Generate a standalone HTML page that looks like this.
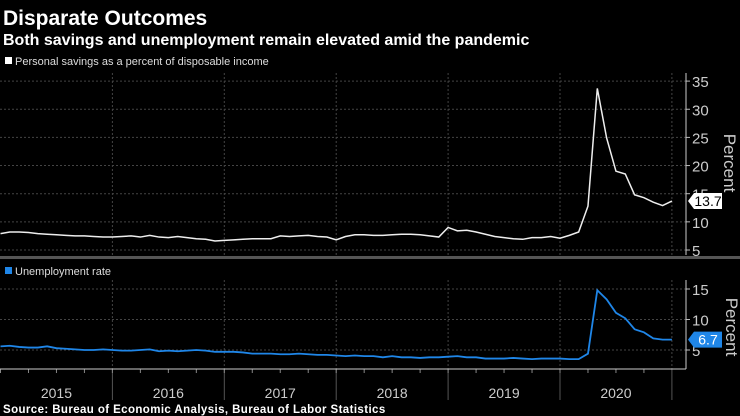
<!DOCTYPE html>
<html><head><meta charset="utf-8"><style>
body{margin:0;background:#000;width:740px;height:416px;overflow:hidden;font-family:"Liberation Sans",sans-serif;color:#fff}
</style></head><body>
<svg id="c" width="740" height="416" xmlns="http://www.w3.org/2000/svg" style="display:block">
<rect width="740" height="416" fill="#000"/>
<text x="3" y="25" font-size="21" font-weight="bold" fill="#fff">Disparate Outcomes</text>
<text x="3" y="45" font-size="16" font-weight="bold" fill="#fff">Both savings and unemployment remain elevated amid the pandemic</text>
<rect x="5" y="57" width="7" height="7" fill="#fff"/>
<text x="15" y="65" font-size="11" fill="#ddd">Personal savings as a percent of disposable income</text>
<rect x="0" y="256" width="740" height="3" fill="#555"/>
<rect x="5" y="267" width="7" height="7" fill="#1f86e8"/>
<text x="15" y="275" font-size="11" fill="#ddd">Unemployment rate</text>
<text x="3" y="413" font-size="11.5" font-weight="bold" fill="#fff" letter-spacing="0.4">Source: Bureau of Economic Analysis, Bureau of Labor Statistics</text>
<g id="g"></g>
</svg>
<script>
const years=["2015","2016","2017","2018","2019","2020"];
// Dec 2014 .. Dec 2020
const savings=[7.9,
8.2,8.2,8.1,7.9,7.8,7.7,7.6,7.5,7.5,7.4,7.3,7.3,
7.4,7.5,7.3,7.6,7.3,7.2,7.4,7.2,7.0,6.9,6.6,6.7,
6.8,6.9,7.0,7.0,7.0,7.5,7.4,7.5,7.6,7.4,7.3,6.8,
7.4,7.7,7.7,7.6,7.6,7.7,7.8,7.8,7.7,7.5,7.3,9.0,
8.4,8.5,8.2,7.8,7.4,7.2,7.0,6.9,7.2,7.2,7.4,7.1,
7.6,8.2,12.8,33.7,24.9,19.0,18.5,14.8,14.3,13.5,12.9,13.7];
const unemployment=[5.6,
5.7,5.5,5.4,5.4,5.6,5.3,5.2,5.1,5.0,5.0,5.1,5.0,
4.9,4.9,5.0,5.1,4.8,4.9,4.8,4.9,5.0,4.9,4.7,4.7,
4.7,4.6,4.4,4.4,4.4,4.3,4.3,4.4,4.3,4.2,4.2,4.1,
4.0,4.1,4.0,4.0,3.8,4.0,3.8,3.8,3.7,3.8,3.8,3.9,
4.0,3.8,3.8,3.6,3.6,3.6,3.7,3.6,3.5,3.6,3.6,3.6,
3.5,3.5,4.4,14.8,13.3,11.1,10.2,8.4,7.9,6.9,6.7,6.7];
const topTicks=[5,10,15,20,25,30,35];
const botTicks=[5,10,15];
const NS="http://www.w3.org/2000/svg",g=document.getElementById('g');
const X0=0.5,YW=111.9,MW=YW/12;
const xs=i=>X0+i*MW;
const yT=v=>250-(v-5)*5.63;
const yB=v=>350-(v-5)*6.1;
function el(t,a,p){const e=document.createElementNS(NS,t);for(const k in a)e.setAttribute(k,a[k]);(p||g).appendChild(e);return e;}
const AX=686;
topTicks.forEach(v=>{
 const l=el('line',{x1:0,x2:AX,y1:yT(v),y2:yT(v),stroke:'#444','stroke-dasharray':'2,2'});
 
 
 el('line',{x1:AX,x2:AX+4,y1:yT(v),y2:yT(v),stroke:'#bbb'});
 const t=el('text',{x:AX+6,y:yT(v)+6,'font-size':15,fill:'#ccc'});t.textContent=v;
 
 
});
botTicks.forEach(v=>{
 const l=el('line',{x1:0,x2:AX,y1:yB(v),y2:yB(v),stroke:'#444','stroke-dasharray':'2,2'});
 
 
 el('line',{x1:AX,x2:AX+4,y1:yB(v),y2:yB(v),stroke:'#bbb'});
 const t=el('text',{x:AX+6,y:yB(v)+6,'font-size':15,fill:'#ccc'});t.textContent=v;
 
 
});
for(let k=1;k<=years.length;k++){
 const x=X0+k*YW;
 el('line',{x1:x,x2:x,y1:73,y2:255,stroke:'#444','stroke-dasharray':'2,2'});
 el('line',{x1:x,x2:x,y1:280,y2:369,stroke:'#444','stroke-dasharray':'2,2'});
 el('line',{x1:x,x2:x,y1:369,y2:400,stroke:'#555'});
}
for(let q=0;q<years.length*4;q++){const x=X0+q*YW/4;el('line',{x1:x,x2:x,y1:369,y2:373,stroke:'#888'});}
years.forEach((y,k)=>{
 const t=el('text',{x:X0+k*YW+YW/2,y:398,'font-size':14,fill:'#ccc','text-anchor':'middle'});t.textContent=y;
 
 
});
el('line',{x1:AX,x2:AX,y1:73,y2:255,stroke:'#ccc'});
el('line',{x1:AX,x2:AX,y1:280,y2:369,stroke:'#ccc'});
el('line',{x1:0,x2:AX,y1:369,y2:369,stroke:'#ccc'});
let p=el('text',{x:0,y:0,'font-size':17,fill:'#ccc','text-anchor':'middle',transform:'translate(724,163) rotate(90)'});p.textContent='Percent';


p=el('text',{x:0,y:0,'font-size':17,fill:'#ccc','text-anchor':'middle',transform:'translate(726,327) rotate(90)'});p.textContent='Percent';


const sl=el('polyline',{points:savings.map((v,i)=>xs(i)+','+yT(v)).join(' '),fill:'none',stroke:'#eee','stroke-width':1.5});


const ul=el('polyline',{points:unemployment.map((v,i)=>xs(i)+','+yB(v)).join(' '),fill:'none',stroke:'#1f86e8','stroke-width':1.8});


function tag(v,y,bg,fg,name){
 const gg=el('g',{});
 
 
 el('path',{d:`M${AX+2},${y} L${AX+8},${y-8} L${AX+36},${y-8} L${AX+36},${y+8} L${AX+8},${y+8} Z`,fill:bg},gg);
 const t=el('text',{x:AX+22,y:y+5,'font-size':14,fill:fg,'text-anchor':'middle'},gg);t.textContent=v;
}
tag(savings[savings.length-1],yT(savings[savings.length-1]),'#fff','#000','savings-last-value');
tag(unemployment[unemployment.length-1],yB(unemployment[unemployment.length-1]),'#1f86e8','#fff','unemployment-last-value');
</script>
</body></html>
